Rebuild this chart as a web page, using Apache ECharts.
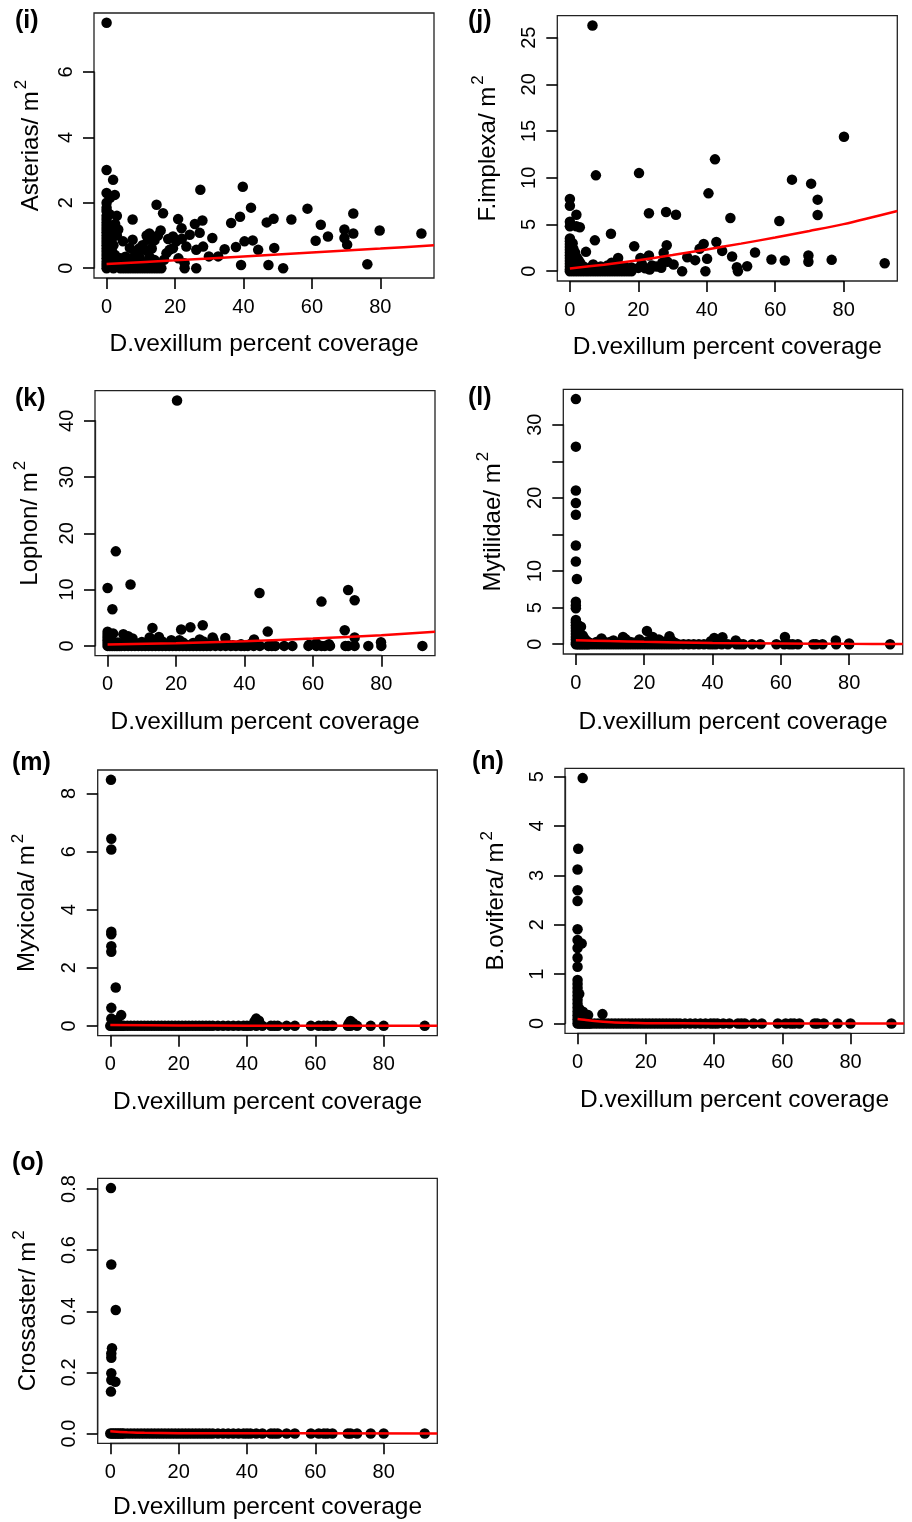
<!DOCTYPE html>
<html><head><meta charset="utf-8">
<script src="https://cdn.jsdelivr.net/npm/echarts@6/dist/echarts.min.js"></script>
<style>html,body{margin:0;padding:0;background:#fff}#c{width:912px;height:1522px}</style>
</head><body><div id="c"></div><script>
// ---------------- data ----------------
const panelTags = ['(i)','(j)','(k)','(l)','(m)','(n)','(o)'];
const speciesNames = ['Asterias','F.implexa','Lophon','Mytilidae','Myxicola','B.ovifera','Crossaster'];
const xTitle = 'D.vexillum percent coverage';
const xTickStep = 20, xTickMax = 80;
const yTickStep = [2, 5, 10, 5, 2, 1, 0.2];
const yTickMax  = [6, 25, 40, 30, 8, 5, 0.8];
const yTickLabels = [[0,2,4,6],[0,5,10,15,20,25],[0,10,20,30,40],[0,5,10,20,30],[0,2,4,6,8],[0,1,2,3,4,5],[0,0.2,0.4,0.6,0.8]];

// x positions of samples with zero counts (shared baseline rows)
const sampleCoverage = [0,0.5,1,1.5,2,2.5,3,3.5,4,5,6,7,8,9,10,11,12,13,14,15,16,17,18,19,20,21,22,23,24,25,26,27,28,29,30,31.5,33,34.5,36,37.5,39,40,41,42.7,44.5,47,48,49,51.6,54,58.7,61,62.5,63.5,65,69.5,70.3,72.2,76.2,80,92];

const asteriasPts = [
[0,7.5],[0,3.0],[0,2.3],[0,2.0],[0,1.85],[0,1.75],[0,1.6],[0,1.5],[0,1.4],[0,1.3],[0,1.2],[0,1.1],[0,1.0],[0,0.9],[0,0.8],[0,0.7],[0,0.6],[0,0.5],[0,0.4],[0,0.3],[0,0.2],[0,0.1],[0,0],
[0.8,0.1],[0.8,0.4],[0.8,0.7],[0.8,1.0],[0.8,1.3],[0.9,1.65],[1,2.15],[1.5,0.25],[1.5,0.55],[1.5,0.9],[1.5,1.2],[1.9,2.7],[2,0],[2,0.7],[2.2,1.1],[2.4,2.24],[2.5,1.35],[2.5,0.4],[3,0.15],[3,1.0],[3.4,1.18],[3,1.6],
[4,0],[5,0],[6,0],[7,0],[8,0],[9,0],[10,0],[11,0],[12,0],[13,0],[14,0],[15,0],[16,0],
[4,0.3],[5,0.15],[5.5,0.35],[6.5,0.15],[7,0.3],[8,0.2],[9,0.1],[9.5,0.35],[10.5,0.2],[11.5,0.1],[12.5,0.35],[13,0.15],[14,0.25],[15,0.1],[16.8,0.26],
[4.8,0.82],[6.8,0.62],[7.6,0.87],[7.6,1.49],[8.5,0.5],[9.5,0.6],[10.5,0.7],[11.5,0.55],[11.7,1.0],[12.1,0.87],[12.5,1.06],[13.2,0.6],[14,0.85],[14.6,1.94],[15,1.0],[15.8,1.15],[16.5,1.68],[17.5,0.46],[18,0.89],[18.4,0.56],[19.4,0.97],[19.4,0.61],[20.4,0.82],[20.9,1.5],[21.9,1.22],[21,0.3],[22,0.9],[22.8,0.15],[22.8,0],[23.3,0.66],[24.3,1.02],[25.8,1.35],[26.2,0],[26.2,0.56],[27.4,2.4],[27.2,1.08],[28,1.46],[28.2,0.66],[29.9,0.36],[30.9,0.92],[32.6,0.36],[34.5,0.58],[36.4,1.38],[37.8,0.65],[39,1.57],[39.3,0.1],[39.8,2.49],[40.3,0.82],[42.2,1.85],[42.7,0.85],[44.3,0.56],[46.8,1.4],[47.3,0.1],[48.8,1.51],[49,0.62],[51.6,0],[54,1.49],[58.7,1.82],[61.1,0.84],[62.6,1.33],[64.7,0.97],[69.5,1.18],[69.5,0.92],[70.3,0.72],[72.1,1.67],[72.1,1.06],[76.2,0.12],[79.8,1.15],[92,1.06]
];
const asteriasFit = [[0,0.13],[20,0.24],[40,0.36],[60,0.48],[80,0.6],[95.7,0.7]];

const fimplexaPts = [
[0,7.73],[0,7.0],[0,5.3],[0,4.8],[0,3.5],[0,3.2],[0,2.9],[0,2.6],[0,2.3],[0,2.0],[0,1.7],[0,1.4],[0,1.1],[0,0.8],[0,0.5],[0,0.2],[0,0],
[1.9,6.05],[1.9,4.8],[2.9,4.7],[0.8,3.0],[1,2.4],[1,1.8],[1,1.2],[1,0.6],[1.5,2.0],[1.5,0.3],[2,1.5],[2,0.9],[2.5,1.2],[2.5,0.4],[3,0.9],[3.5,0.3],[4.7,2.07],[4,0.5],
[1,0],[2,0],[3,0],[4,0],[5,0],[6,0],[7,0],[8,0],[9,0],[10,0],[11,0],[12,0],[13,0],[14,0],[15,0],[16,0],[17,0],[18,0],
[5,0.2],[6,0.4],[6.8,0.71],[7.3,3.3],[7.6,10.26],[6.6,26.3],[8,0.3],[9,0.5],[10,0.2],[11,0.6],[12,4.0],[12.2,0.9],[13,0.4],[14.1,1.42],[14.5,0.7],[15,0.3],[16,0.5],[17,0.2],[18,0.4],[18.8,2.67],[20,0.35],[20.2,10.5],[20.6,1.42],[21,0.8],[22,0.3],[23.1,6.2],[23.1,1.67],[23.3,0.18],[24,0.6],[25.3,0.5],[26.7,0.36],[27,0.9],[27.4,1.96],[28.1,6.34],[28.3,2.78],[28.5,1.0],[30.3,0.71],[31,6.05],[32.8,0],[34.3,1.5],[36.6,1.18],[37.9,2.39],[39.1,2.92],[39.6,0],[40.1,1.32],[40.5,8.33],[42.4,11.97],[42.8,3.13],[44.5,2.17],[46.9,5.7],[47.4,1.57],[48.8,0.43],[49.1,0],[51.8,0.53],[54.1,2.0],[58.9,1.25],[61.2,5.38],[62.8,1.14],[64.9,9.8],[69.7,1.67],[69.7,1.0],[70.5,9.37],[72.4,7.66],[72.4,6.02],[76.5,1.21],[80.1,14.4],[92,0.85]
];
const fimplexaFit = [[0,0.29],[10,0.7],[20,1.18],[30,1.72],[40,2.32],[50,2.95],[60,3.6],[70,4.3],[80,5.04],[95.7,6.45]];

const lophonPts = [
[20.3,43.6],[2.4,16.8],[0,10.3],[6.7,10.9],[1.4,6.5],[44.4,9.4],[62.5,7.87],[70.3,9.94],[72.2,8.1],[69.3,2.78],[72.2,1.48],[79.9,0.65],[64.7,0.3],[61,0.47],[58.9,0.18],[46.8,2.54],[42.8,1.12],[41.9,0.4],[38.5,0.1],[36.6,0.1],[34.4,1.42],[30.7,1.48],[27.8,3.67],[26.9,1.12],[24.2,3.3],[21.5,2.9],[21,1.0],[18.6,1.0],[13.1,3.2],[15,1.6],[12.3,1.48],[7.3,1.3],[4.6,2.07],[6,1.7],[0,2.5],[1.6,2.2],
[0,0.5],[0,1.0],[0,1.5],[0,2.0],[1,1.0],[3,0.6],[5,0.8],[8,0.5],[10,0.7],[11,0.3],[14,0.5],[16,0.8],[17,0.3],[19,0.5],[20,0.2],[22,0.6],[23,0.2],[25,0.5],[26,0.2],[28,0.8],[29,0.4],[30,0.2],[31,1.0],[35,0.3],[39,0.3]
];
const lophonFit = [[0,0.25],[20,0.47],[40,0.82],[60,1.3],[80,1.9],[95.7,2.5]];

const mytilidaePts = [
[0,33.5],[0,27.0],[0,21.0],[0,19.3],[0,17.7],[0,13.5],[0,11.3],[0.3,8.9],[0,5.8],[0,5.3],[0,4.9],[0,3.3],[0,3.0],[0,2.6],[0,2.2],[0,1.8],[0,1.4],[0,1.0],[0,0.6],[0,0.2],
[0.7,2.6],[1,2.0],[1.5,2.4],[2,1.2],[2.5,0.8],[1,0.4],[3,0.5],[3.5,0.3],[4,0.2],
[7.5,0.77],[10,0.3],[11,0.5],[12,0.2],[13.8,1.0],[14.5,0.7],[16,0.3],[18.6,0.64],[20.8,1.82],[22.5,1.0],[24.3,0.64],[26,0.3],[27.4,1.1],[28,0.5],[39.5,0.4],[40.5,0.86],[42.9,0.95],[46.8,0.5],[61.2,1.0],[76.1,0.5],[80,0.1],
[6,0.3],[8,0.4],[9,0.2],[15,0.4],[17,0.2],[19,0.3],[21,0.4],[23,0.3],[25,0.4],[29,0.2]
];
const mytilidaeFit = [[0,0.55],[10,0.42],[20,0.32],[40,0.18],[60,0.1],[80,0.05],[95.7,0.03]];

const myxicolaPts = [
[0.2,8.47],[0.3,6.44],[0.3,6.07],[0.3,3.24],[0.3,3.15],[0.3,2.74],[0.3,2.55],[1.6,1.32],[0.3,0.62],[0.3,0.25],[3.2,0.37],[2,0.2],[1,0.1],[42.2,0.15],[42.7,0.25],[43.5,0.18],[69.8,0.08],[70.3,0.17],[71,0.1]
];
const myxicolaFit = [[0,0.03],[20,0.015],[40,0.008],[95.7,0.001]];

const boviferaPts = [
[1.5,4.97],[0.2,3.54],[0,3.12],[0,2.7],[0,2.48],[0,1.91],[0,1.69],[1.2,1.62],[0,1.53],[0,1.33],[0,1.15],[0,0.88],[0,0.8],[0,0.72],[0,0.64],[0,0.56],[0,0.48],[0,0.4],[0,0.32],[0,0.24],[0,0.16],[0,0.08],[0.5,0.6],[0.5,0.3],[0.8,0.15],[1.6,0.24],[3.1,0.17],[2.2,0.1],[7.3,0.19]
];
const boviferaFit = [[0,0.09],[2,0.075],[5,0.05],[10,0.025],[15,0.013],[20,0.007],[40,0.001],[95.7,0]];

const crossasterPts = [
[0.2,0.803],[0.3,0.553],[1.6,0.404],[0.5,0.279],[0.3,0.262],[0.3,0.248],[0.3,0.197],[0.3,0.175],[1.5,0.169],[0.2,0.137]
];
const crossasterFit = [[0,0.007],[5,0.004],[10,0.002],[20,0.001],[95.7,0]];

// ---------------- assembly ----------------
const withZeros = pts => pts.concat(sampleCoverage.map(x => [x, 0]));
const panelPts = [asteriasPts, fimplexaPts, withZeros(lophonPts), withZeros(mytilidaePts), withZeros(myxicolaPts), withZeros(boviferaPts), withZeros(crossasterPts)];
const panelFits = [asteriasFit, fimplexaFit, lophonFit, mytilidaeFit, myxicolaFit, boviferaFit, crossasterFit];
const labelDecimals = [0,0,0,0,0,0,1];

const layout = [
 {left:94,   top:13,     width:340,   height:265,   tagX:15,  tagY:21,   yGap:51,  xGap:54},
 {left:557.3,top:15.7,   width:340,   height:265.3, tagX:468, tagY:21,   yGap:57,  xGap:54},
 {left:95,   top:390.7,  width:340,   height:265,   tagX:15,  tagY:399,  yGap:53,  xGap:54},
 {left:563.3,top:389.3,  width:339.4, height:264.7, tagX:468, tagY:398,  yGap:58,  xGap:56},
 {left:97.7, top:770,    width:339.6, height:265.7, tagX:12,  tagY:763,  yGap:58,  xGap:54},
 {left:565,  top:768.3,  width:339,   height:265,   tagX:472, tagY:762,  yGap:56.5,xGap:54},
 {left:97.7, top:1178.3, width:339.6, height:265,   tagX:12,  tagY:1163, yGap:57,  xGap:51}
];

const FONT = "'Liberation Sans', Arial, Helvetica, sans-serif";
const allX = panelPts.flat().map(p => p[0]);
const xLo = Math.min(...allX), xHi = Math.max(...allX);
const xPad = (xHi - xLo) * 0.04;
const xMin = xLo - xPad, xMax = xHi + xPad;
const N = layout.length;

const grid = [], xAxis = [], yAxis = [], series = [], graphic = [];
const tickGrid = [], tickX = [], tickY = [];
const mkTick = () => ({show:true, length:11, lineStyle:{color:'#000', width:1.6}});
const mkLine = () => ({show:true, onZero:false, lineStyle:{color:'#222', width:1.3}});

layout.forEach((L, k) => {
  const ys = panelPts[k].map(p => p[1]);
  const yLo = Math.min(...ys), yHi = Math.max(...ys), yPad = (yHi - yLo) * 0.04;
  const yMin = yLo - yPad, yMax = yHi + yPad;
  // main plotting region (box)
  grid.push({left:L.left, top:L.top, width:L.width, height:L.height, show:true,
    borderColor:'#222', borderWidth:1.3, backgroundColor:'transparent', containLabel:false});
  xAxis.push({type:'value', gridIndex:k, min:xMin, max:xMax,
    axisLine:{show:false}, axisTick:{show:false}, axisLabel:{show:false}, splitLine:{show:false},
    name:xTitle, nameLocation:'middle', nameGap:L.xGap, nameMoveOverlap:false,
    nameTextStyle:{fontSize:24.5, color:'#000', fontFamily:FONT}});
  yAxis.push({type:'value', gridIndex:k, min:yMin, max:yMax,
    axisLine:{show:false}, axisTick:{show:false}, axisLabel:{show:false}, splitLine:{show:false},
    name:'{a|' + speciesNames[k] + '/ m}{s|2}', nameLocation:'middle', nameGap:L.yGap, nameRotate:90, nameMoveOverlap:false,
    nameTextStyle:{color:'#000', fontFamily:FONT, fontSize:24,
      rich:{a:{fontSize:24, lineHeight:30, verticalAlign:'bottom', color:'#000', fontFamily:FONT},
            s:{fontSize:17, lineHeight:17, verticalAlign:'top', color:'#000', fontFamily:FONT, padding:[0,0,0,2]}}}});
  series.push({type:'scatter', xAxisIndex:k, yAxisIndex:k, data:panelPts[k], symbol:'circle', symbolSize:10.5,
    itemStyle:{color:'#000', opacity:1}, silent:true, z:2, clip:true});
  series.push({type:'line', xAxisIndex:k, yAxisIndex:k, data:panelFits[k], showSymbol:false, symbol:'none',
    smooth:0.3, lineStyle:{color:'#ff0000', width:2.5}, silent:true, z:3, clip:true});
  graphic.push({type:'text', x:L.tagX, y:L.tagY, style:{text:panelTags[k], font:'bold 25px ' + FONT, fill:'#000', verticalAlign:'middle', align:'left'}});

  // axis region spanning first..last tick (R draws the axis only between its ticks)
  const px = v => L.left + (v - xMin) / (xMax - xMin) * L.width;
  const py = v => L.top + L.height - (v - yMin) / (yMax - yMin) * L.height;
  const g0 = px(0), g1 = px(xTickMax), h0 = py(yTickMax[k]), h1 = py(0);
  tickGrid.push({left:g0, top:h0, width:g1 - g0, height:h1 - h0, show:false, containLabel:false});
  const labs = yTickLabels[k];
  tickX.push({type:'value', gridIndex:N + k, min:0, max:xTickMax, interval:xTickStep, position:'bottom',
    offset:(L.top + L.height) - h1, axisLine:mkLine(), axisTick:mkTick(), splitLine:{show:false},
    axisLabel:{margin:19, fontSize:20, color:'#000', fontFamily:FONT, formatter:v => String(v)}});
  tickY.push({type:'value', gridIndex:N + k, min:0, max:yTickMax[k], interval:yTickStep[k], position:'left',
    offset:g0 - L.left, axisLine:mkLine(), axisTick:mkTick(), splitLine:{show:false},
    axisLabel:{rotate:90, margin:18, fontSize:20, color:'#000', fontFamily:FONT,
      formatter:v => labs.some(t => Math.abs(t - v) < 1e-9) ? (labelDecimals[k] ? Number(v).toFixed(labelDecimals[k]) : String(Math.round(v * 1000) / 1000)) : ''}});
});

const chart = echarts.init(document.getElementById('c'), null, {renderer:'canvas'});
chart.setOption({animation:false, backgroundColor:'#fff',
  grid:grid.concat(tickGrid), xAxis:xAxis.concat(tickX), yAxis:yAxis.concat(tickY), series, graphic});
</script></body></html>
